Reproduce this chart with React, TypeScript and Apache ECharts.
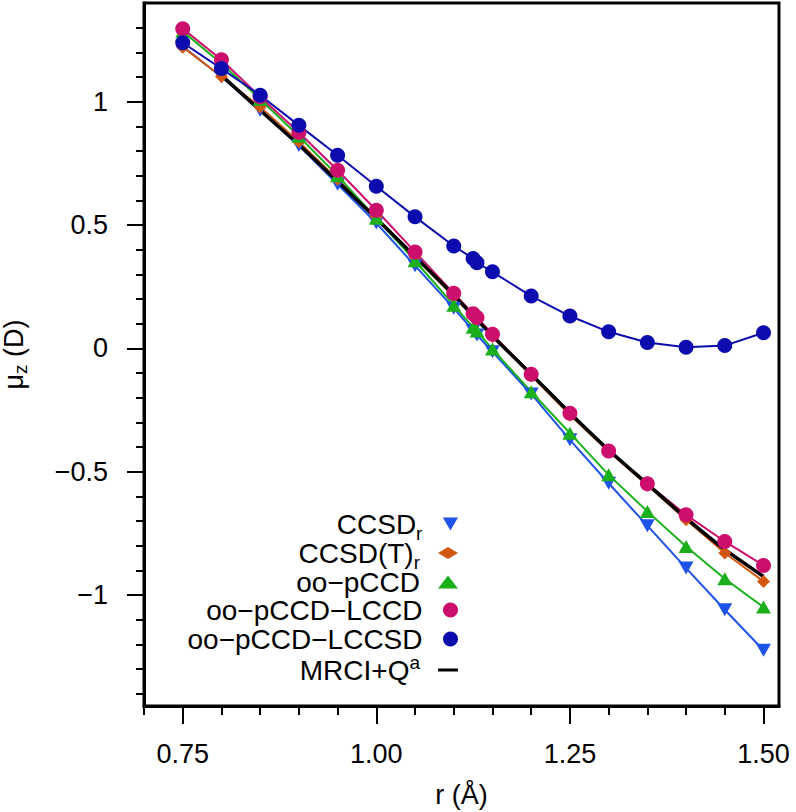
import React, { useEffect, useRef } from 'react';
import * as echarts from 'echarts';

// ---- data ----
const rValues = [0.75, 0.8, 0.85, 0.9, 0.95, 1.0, 1.05, 1.1, 1.125, 1.13, 1.15, 1.2, 1.25, 1.3, 1.35, 1.4, 1.45, 1.5];
const ccsdR = [1.225, 1.1, 0.965, 0.822, 0.665, 0.508, 0.335, 0.163, 0.072, 0.054, -0.014, -0.185, -0.371, -0.547, -0.719, -0.891, -1.06, -1.224];
const ccsdTR = [1.221, 1.102, 0.978, 0.838, 0.685, 0.533, 0.37, 0.21, 0.13, 0.115, 0.048, -0.11, -0.27, -0.418, -0.555, -0.695, -0.83, -0.945];
const ooPCCD = [1.285, 1.155, 1.01, 0.86, 0.7, 0.527, 0.355, 0.175, 0.085, 0.07, -0.003, -0.176, -0.344, -0.513, -0.661, -0.803, -0.934, -1.049];
const ooPCCDLCCD = [1.296, 1.17, 1.02, 0.875, 0.722, 0.56, 0.391, 0.223, 0.14, 0.125, 0.057, -0.105, -0.263, -0.416, -0.549, -0.675, -0.783, -0.88];
const ooPCCDLCCSD = [1.239, 1.134, 1.026, 0.904, 0.783, 0.657, 0.533, 0.415, 0.364, 0.347, 0.31, 0.212, 0.131, 0.067, 0.024, 0.004, 0.011, 0.063];
const mrciR = [0.8, 0.85, 0.9, 0.95, 1.0, 1.05, 1.1, 1.15, 1.2, 1.25, 1.3, 1.35, 1.4, 1.45, 1.5];
const mrciQ = [1.107, 0.965, 0.825, 0.677, 0.526, 0.372, 0.215, 0.05, -0.105, -0.262, -0.412, -0.55, -0.688, -0.815, -0.925];

const xMajorTicks = [0.75, 1.0, 1.25, 1.5];
const xMinorTicks = [0.7, 0.75, 0.8, 0.85, 0.9, 0.95, 1.0, 1.05, 1.1, 1.15, 1.2, 1.25, 1.3, 1.35, 1.4, 1.45, 1.5];
const yMajorTicks = [-1, -0.5, 0, 0.5, 1];
const yMinorTicks = [-1.4, -1.3, -1.2, -1.1, -1.0, -0.9, -0.8, -0.7, -0.6, -0.5, -0.4, -0.3, -0.2, -0.1, 0, 0.1, 0.2, 0.3, 0.4, 0.5, 0.6, 0.7, 0.8, 0.9, 1.0, 1.1, 1.2, 1.3];

const seriesNames = ['CCSD_r', 'CCSD(T)_r', 'oo-pCCD', 'oo-pCCD-LCCD', 'oo-pCCD-LCCSD', 'MRCI+Q'];
const legendLabels: Record<string, string> = {
  'CCSD_r': '{m|CCSD}{sub|r}{g| }',
  'CCSD(T)_r': '{m|CCSD(T)}{sub|r}{g| }',
  'oo-pCCD': '{m|oo\u2212pCCD}{g| }',
  'oo-pCCD-LCCD': '{m|oo\u2212pCCD\u2212LCCD}{g| }',
  'oo-pCCD-LCCSD': '{m|oo\u2212pCCD\u2212LCCSD}{g| }',
  'MRCI+Q': '{m|MRCI+Q}{sup|a}{g| }',
};

const FONT = "'Liberation Sans', Arial, Helvetica, sans-serif";
const DOWN_TRI = 'path://M0,0L14,0L7,12Z';

const colors = {
  ccsd: '#1f52e6',
  ccsdt: '#d2580f',
  pccd: '#1bb01b',
  lccd: '#cc0f6c',
  lccsd: '#0c0cae',
  mrci: '#000000',
};

const legendRich = {
  m: { fontSize: 28, lineHeight: 28, color: '#000', fontFamily: FONT },
  sub: { fontSize: 19, lineHeight: 20, verticalAlign: 'top', padding: [14, 0, 0, 0], color: '#000', fontFamily: FONT },
  sup: { fontSize: 19, lineHeight: 20, verticalAlign: 'bottom', padding: [0, 0, 12, 0], color: '#000', fontFamily: FONT },
  g: { width: 13, fontSize: 28, lineHeight: 28 },
};

const nameRich = {
  m: { fontSize: 27, lineHeight: 28, color: '#000', fontFamily: FONT },
  sub: { fontSize: 19, lineHeight: 20, verticalAlign: 'top', padding: [11, 0, 0, 0], color: '#000', fontFamily: FONT },
};

function buildOption() {
  const pts = (xs: number[], ys: number[]) => xs.map((x, i) => [x, ys[i]]);
  const gridRect = { left: 144, top: 3, width: 635, height: 703, containLabel: false, outerBoundsMode: 'none' };

  // legend layout: [icon, itemWidth, itemHeight, rowCenterY, keepAspect]
  const legendRows: any[] = [
    [DOWN_TRI, 20, 13, 524, true],
    ['diamond', 20, 12, 553, true],
    ['triangle', 20, 13, 582, true],
    ['circle', 20, 15, 610, true],
    ['circle', 20, 15, 639, true],
    ['rect', 20, 3, 667, false],
  ];

  const legends = seriesNames.map((name, i) => {
    const [icon, w, h, cy, keep] = legendRows[i];
    return {
      show: true,
      data: [{ name, icon }],
      orient: 'vertical',
      align: 'right',
      right: 796 - 458,
      top: cy - 14,
      padding: 0,
      itemWidth: w,
      itemHeight: h,
      symbolKeepAspect: keep,
      selectedMode: false,
      formatter: (n: string) => legendLabels[n],
      textStyle: { fontFamily: FONT, fontSize: 28, color: '#000', rich: legendRich },
    };
  });

  const lineSeries = (name: string, data: number[][], color: string, symbol: any, size: any) => ({
    name,
    type: 'line',
    data,
    xAxisIndex: 0,
    yAxisIndex: 0,
    symbol,
    symbolSize: size,
    showSymbol: true,
    lineStyle: { color, width: 2 },
    itemStyle: { color, borderWidth: 0 },
    emphasis: { disabled: true },
  });

  return {
    animation: false,
    backgroundColor: '#ffffff',
    textStyle: { fontFamily: FONT },
    grid: [
      { ...gridRect, show: true, borderColor: '#000', borderWidth: 3, backgroundColor: 'transparent' },
      { ...gridRect, show: false },
    ],
    legend: legends,
    xAxis: [
      {
        type: 'value', gridIndex: 0, min: 0.7, max: 1.52,
        axisLine: { show: true, onZero: false, lineStyle: { color: '#000', width: 3 } },
        axisTick: { show: true, customValues: xMinorTicks, length: 9, lineStyle: { color: '#000', width: 2 } },
        axisLabel: { show: false },
        splitLine: { show: false },
      },
      {
        type: 'value', gridIndex: 1, min: 0.7, max: 1.52,
        axisLine: { show: false, onZero: false },
        axisTick: { show: true, customValues: xMajorTicks, length: 18, lineStyle: { color: '#000', width: 2 } },
        axisLabel: {
          show: true, customValues: xMajorTicks, margin: 33,
          formatter: (v: number) => v.toFixed(2),
          color: '#000', fontSize: 27, fontFamily: FONT, lineHeight: 30,
        },
        splitLine: { show: false },
        name: 'r (\u00c5)',
        nameLocation: 'middle',
        nameGap: 74,
        nameTextStyle: { color: '#000', fontSize: 27, fontFamily: FONT, lineHeight: 30 },
      },
    ],
    yAxis: [
      {
        type: 'value', gridIndex: 0, min: -1.45, max: 1.4,
        axisLine: { show: true, onZero: false, lineStyle: { color: '#000', width: 3 } },
        axisTick: { show: true, customValues: yMinorTicks, length: 8, lineStyle: { color: '#000', width: 2 } },
        axisLabel: { show: false },
        splitLine: { show: false },
      },
      {
        type: 'value', gridIndex: 1, min: -1.45, max: 1.4,
        axisLine: { show: false, onZero: false },
        axisTick: { show: true, customValues: yMajorTicks, length: 17, lineStyle: { color: '#000', width: 2 } },
        axisLabel: {
          show: true, customValues: yMajorTicks, margin: 36,
          formatter: (v: number) => (v < 0 ? '\u2212' : '') + String(Math.abs(v)),
          color: '#000', fontSize: 27, fontFamily: FONT,
        },
        splitLine: { show: false },
        name: '{m|\u03bc}{sub|z}{m| (D)}',
        nameLocation: 'middle',
        nameGap: 116,
        nameTextStyle: { color: '#000', fontSize: 27, fontFamily: FONT, rich: nameRich },
      },
    ],
    series: [
      lineSeries('CCSD_r', pts(rValues, ccsdR), colors.ccsd, DOWN_TRI, [15, 13]),
      lineSeries('CCSD(T)_r', pts(rValues, ccsdTR), colors.ccsdt, 'diamond', 13),
      lineSeries('oo-pCCD', pts(rValues, ooPCCD), colors.pccd, 'triangle', [15, 13]),
      lineSeries('oo-pCCD-LCCD', pts(rValues, ooPCCDLCCD), colors.lccd, 'circle', 15),
      lineSeries('oo-pCCD-LCCSD', pts(rValues, ooPCCDLCCSD), colors.lccsd, 'circle', 15),
      {
        name: 'MRCI+Q',
        type: 'line',
        data: pts(mrciR, mrciQ),
        xAxisIndex: 0,
        yAxisIndex: 0,
        showSymbol: false,
        symbol: 'none',
        smooth: 0.2,
        lineStyle: { color: colors.mrci, width: 3.5 },
        itemStyle: { color: colors.mrci, borderWidth: 0 },
        emphasis: { disabled: true },
      },
    ],
  };
}

export default function App() {
  const ref = useRef<HTMLDivElement>(null);
  useEffect(() => {
    if (!ref.current) return;
    const chart = echarts.init(ref.current, null, { renderer: 'svg' });
    chart.setOption(buildOption() as any);
    return () => chart.dispose();
  }, []);
  return (
    <div
      ref={ref}
      style={{ position: 'absolute', left: 0, top: 0, width: 796, height: 812, background: '#fff' }}
    />
  );
}
